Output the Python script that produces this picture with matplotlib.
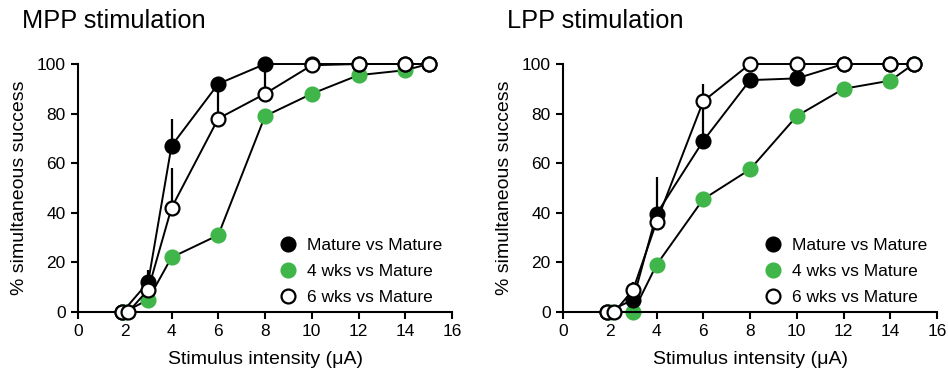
import matplotlib
matplotlib.use("Agg")
import matplotlib.pyplot as plt

plt.rcParams['font.family'] = ['Liberation Sans', 'DejaVu Sans']

# ---- data: MPP stimulation ----
mpp_mature_x = [1.9, 3, 4, 6, 8, 10, 12, 14, 15]
mpp_mature_y = [0, 12, 67, 92, 100, 100, 100, 100, 100]
mpp_mature_err = [0, 5, 11, 0, 0, 0, 0, 0, 0]

mpp_4wk_x = [2, 3, 4, 6, 8, 10, 12, 14, 15]
mpp_4wk_y = [0, 5, 22, 31, 79, 88, 95.5, 97.5, 100]
mpp_4wk_err = [0, 0, 0, 0, 0, 0, 0, 0, 0]

mpp_6wk_x = [1.9, 2.15, 3, 4, 6, 8, 10, 12, 14, 15]
mpp_6wk_y = [0, 0, 9, 42, 78, 88, 99.5, 100, 100, 100]
mpp_6wk_err = [0, 0, 0, 16, 13, 12, 0, 0, 0, 0]

# ---- data: LPP stimulation ----
lpp_mature_x = [1.9, 3, 4, 6, 8, 10, 12, 14, 15]
lpp_mature_y = [0, 5, 39.5, 69, 93.5, 94.2, 100, 100, 100]
lpp_mature_err = [0, 7, 15, 16, 0, 0, 0, 0, 0]

lpp_4wk_x = [2, 3, 4, 6, 8, 10, 12, 14, 15]
lpp_4wk_y = [0, 0, 19, 45.5, 57.5, 79, 90, 93.3, 100]
lpp_4wk_err = [0, 0, 0, 0, 0, 0, 0, 0, 0]

lpp_6wk_x = [1.9, 2.2, 3, 4, 6, 8, 10, 12, 14, 15]
lpp_6wk_y = [0, 0, 9, 36.3, 85, 100, 100, 100, 100, 100]
lpp_6wk_err = [0, 0, 0, 0, 7, 0, 0, 0, 0, 0]

titles = ["MPP stimulation", "LPP stimulation"]
labels = ["Mature vs Mature", "4 wks vs Mature", "6 wks vs Mature"]
xticks = [0, 2, 4, 6, 8, 10, 12, 14, 16]
yticks = [0, 20, 40, 60, 80, 100]

GREEN = '#3fb54a'

fig = plt.figure(figsize=(9.48, 3.75), dpi=100)
axL = fig.add_axes([0.0823, 0.168, 0.3945, 0.6613])
axR = fig.add_axes([0.5939, 0.168, 0.3945, 0.6613])

panels = [
    (axL, (mpp_mature_x, mpp_mature_y, mpp_mature_err),
     (mpp_4wk_x, mpp_4wk_y, mpp_4wk_err), (mpp_6wk_x, mpp_6wk_y, mpp_6wk_err)),
    (axR, (lpp_mature_x, lpp_mature_y, lpp_mature_err),
     (lpp_4wk_x, lpp_4wk_y, lpp_4wk_err), (lpp_6wk_x, lpp_6wk_y, lpp_6wk_err)),
]

for ax, mat, wk4, wk6 in panels:
    styles = [
        (mat, dict(color='black', mfc='black', mec='black'), 3, labels[0]),
        (wk4, dict(color='black', mfc=GREEN, mec=GREEN), 2, labels[1]),
        (wk6, dict(color='black', mfc='white', mec='black'), 4, labels[2]),
    ]
    handles = []
    for (xs, ys, es), st, z, lab in styles:
        # upward error bars (no caps)
        for x, y, e in zip(xs, ys, es):
            if e > 0:
                ax.plot([x, x], [y, min(y + e, 100)], color='black', lw=1.6,
                        zorder=z, clip_on=False, solid_capstyle='butt')
        h, = ax.plot(xs, ys, marker='o', ms=10, mew=1.6, lw=1.4,
                     zorder=z, clip_on=False, label=lab, **st)
        handles.append(h)
    leg_handles = [plt.Line2D([], [], ls='none', marker='o', ms=10, mew=1.6,
                              mfc=h.get_mfc(), mec=h.get_mec()) for h in handles]
    ax.legend(leg_handles, labels, loc='lower left', bbox_to_anchor=(0.515, 0.0),
              frameon=False, fontsize=12.5, handletextpad=0.5, labelspacing=0.62,
              borderaxespad=0, handlelength=1.2)
    ax.set_xlim(0, 16)
    ax.set_ylim(0, 100)
    ax.set_xticks(xticks)
    ax.set_yticks(yticks)
    ax.tick_params(labelsize=12.5, width=1.5, length=5, direction='out', pad=4)
    for s in ['top', 'right']:
        ax.spines[s].set_visible(False)
    for s in ['left', 'bottom']:
        ax.spines[s].set_linewidth(1.5)
    ax.set_xlabel("Stimulus intensity (\u03bcA)", fontsize=14, labelpad=8)
    ax.set_ylabel("% simultaneous success", fontsize=14, labelpad=6)

fig.text(22 / 948, 1 - 28 / 375, titles[0], fontsize=18.3, ha='left', va='baseline')
fig.text(507 / 948, 1 - 28 / 375, titles[1], fontsize=18.3, ha='left', va='baseline')

fig.savefig("out.png", dpi=100)
